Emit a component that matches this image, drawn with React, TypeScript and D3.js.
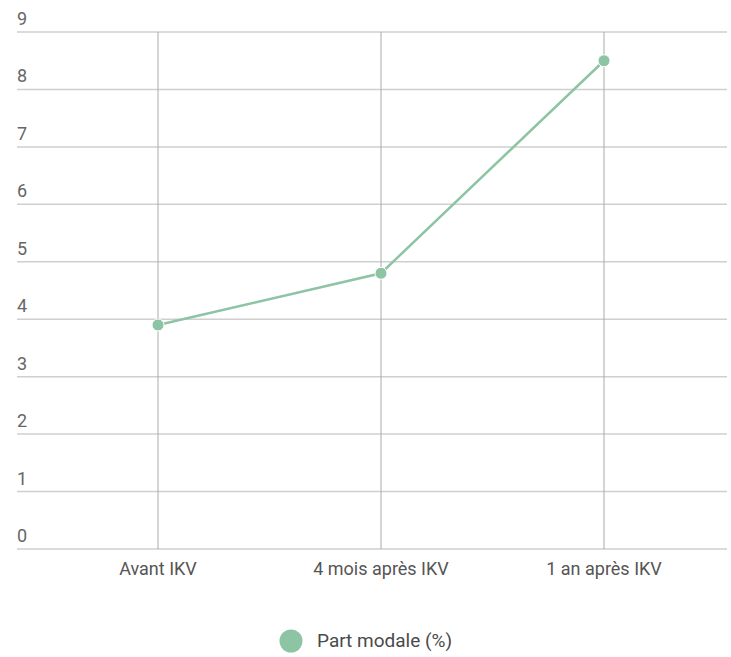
import React, { useRef, useEffect } from 'react';
import * as d3 from 'd3';

const categories = ['Avant IKV', '4 mois après IKV', '1 an après IKV'];
const partModale = [3.9, 4.8, 8.5];
const yTicks = [0, 1, 2, 3, 4, 5, 6, 7, 8, 9];
const seriesName = 'Part modale (%)';

const width = 731;
const height = 657;
const margin = { top: 32, bottom: 108, left: 17, right: 4 };
const lineColor = '#8dc4a4';
const fontFamily = 'Roboto, "Noto Sans", sans-serif';

const App = () => {
  const svgRef = useRef(null);

  useEffect(() => {
    const svg = d3.select(svgRef.current);
    svg.selectAll('*').remove();

    const yScale = d3
      .scaleLinear()
      .domain([0, 9])
      .range([height - margin.bottom, margin.top]);

    const xScale = d3
      .scalePoint()
      .domain(categories)
      .range([158, 604]);

    // horizontal grid + y labels
    const grid = svg.append('g');
    grid
      .selectAll('line')
      .data(yTicks)
      .enter()
      .append('line')
      .attr('x1', margin.left)
      .attr('x2', width - margin.right)
      .attr('y1', (d) => yScale(d))
      .attr('y2', (d) => yScale(d))
      .attr('stroke', '#cfcfcf')
      .attr('stroke-width', 1.5);

    svg
      .append('g')
      .selectAll('text')
      .data(yTicks)
      .enter()
      .append('text')
      .attr('x', margin.left)
      .attr('y', (d) => yScale(d) - 7)
      .attr('fill', '#666')
      .attr('font-family', fontFamily)
      .attr('font-size', 18)
      .text((d) => d);

    // vertical lines at categories
    svg
      .append('g')
      .selectAll('line')
      .data(categories)
      .enter()
      .append('line')
      .attr('x1', (d) => xScale(d))
      .attr('x2', (d) => xScale(d))
      .attr('y1', yScale(9))
      .attr('y2', yScale(0))
      .attr('stroke', '#aaa')
      .attr('stroke-width', 1);

    svg
      .append('g')
      .selectAll('text')
      .data(categories)
      .enter()
      .append('text')
      .attr('x', (d) => xScale(d))
      .attr('y', yScale(0) + 26)
      .attr('text-anchor', 'middle')
      .attr('fill', '#555')
      .attr('font-family', fontFamily)
      .attr('font-size', 18)
      .text((d) => d);

    const line = d3
      .line<number>()
      .x((d, i) => xScale(categories[i]))
      .y((d) => yScale(d));

    svg
      .append('path')
      .datum(partModale)
      .attr('d', line)
      .attr('fill', 'none')
      .attr('stroke', lineColor)
      .attr('stroke-width', 2.5);

    svg
      .append('g')
      .selectAll('circle')
      .data(partModale)
      .enter()
      .append('circle')
      .attr('cx', (d, i) => xScale(categories[i]))
      .attr('cy', (d) => yScale(d))
      .attr('r', 6)
      .attr('fill', lineColor)
      .attr('stroke', '#fff')
      .attr('stroke-width', 1);

    // legend
    const legend = svg.append('g').attr('transform', 'translate(291, 641)');
    legend.append('circle').attr('r', 11.5).attr('fill', lineColor);
    legend
      .append('text')
      .attr('x', 26)
      .attr('y', 6)
      .attr('fill', '#4a4a4a')
      .attr('font-family', fontFamily)
      .attr('font-size', 19)
      .text(seriesName);
  }, []);

  return (
    <svg
      ref={svgRef}
      width={width}
      height={height}
      style={{ position: 'absolute', left: 0, top: 0, background: '#fff' }}
    />
  );
};

export default App;
